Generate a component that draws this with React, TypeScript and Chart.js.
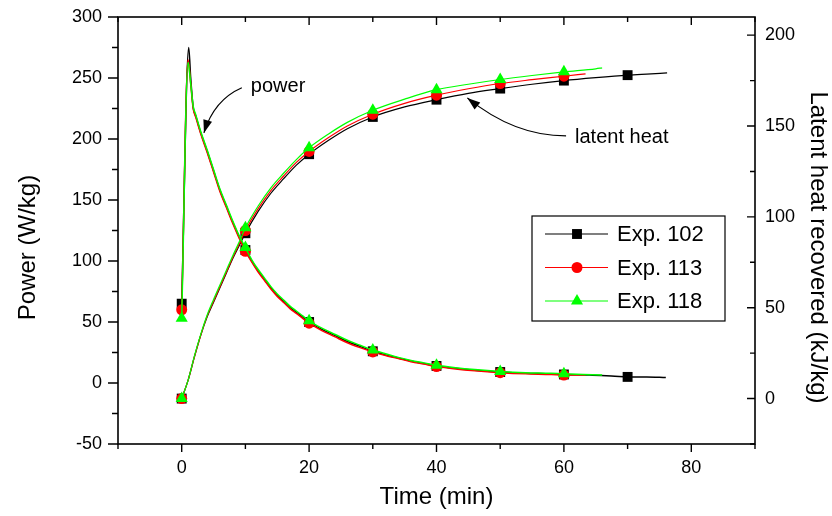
import React, { useEffect, useRef } from 'react';
import { Chart, registerables } from 'chart.js';

Chart.register(...registerables);

const FONT = '"Liberation Sans", Arial, Helvetica, sans-serif';

// ---- Power (W/kg) vs time (min) ----
const P102_T = [0, 1.1, 1.4, 1.8, 2.2, 3, 4, 5, 6, 7, 8, 9, 10, 11, 12, 13, 14, 15, 16, 17, 18, 19, 20, 22, 24, 26, 28, 30, 32, 34, 36, 38, 40, 43, 46, 50, 54, 58, 60, 64, 68, 70, 73, 76];
const P102_V = [65, 275, 251, 226, 219, 205, 190, 174, 158, 145, 132, 120, 109, 100, 92, 85, 78, 72, 67, 62, 58, 54, 50, 44, 39, 34, 30, 26, 23, 20.5, 18, 16, 14, 12, 10.5, 9, 8, 7.5, 7, 6.5, 5.5, 5, 5, 4.5];

const P113_T = [0, 1.0, 1.4, 1.8, 2.2, 3, 4, 5, 6, 7, 8, 9, 10, 11, 12, 13, 14, 15, 16, 17, 18, 19, 20, 22, 24, 26, 28, 30, 32, 34, 36, 38, 40, 43, 46, 50, 54, 58, 60, 63.4];
const P113_V = [60, 265, 246, 225, 218, 204, 189, 173, 157, 144, 131, 119, 108, 99, 91, 84, 77, 71, 66, 61, 57, 53, 49, 43, 38, 33, 29, 25.5, 22.5, 20, 17.5, 15.5, 13.5, 11.5, 10, 8.5, 7.5, 7, 6.5, 6.5];

const P118_T = [0, 1.0, 1.4, 1.8, 2.2, 3, 4, 5, 6, 7, 8, 9, 10, 11, 12, 13, 14, 15, 16, 17, 18, 19, 20, 22, 24, 26, 28, 30, 32, 34, 36, 38, 40, 43, 46, 50, 54, 58, 60, 63, 66];
const P118_V = [53, 263, 246, 227, 220, 206, 191, 175, 159, 146, 133, 121, 111, 101, 93, 86, 79, 73, 68, 63, 59, 55, 51, 45, 40, 35, 31, 27, 24, 21, 18.5, 16.5, 14.5, 12.5, 11, 9.5, 8.5, 8, 7.5, 7, 6.5];

// ---- Latent heat recovered (kJ/kg) vs time (min) ----
const L102_T = [0, 1, 2, 3, 4, 5, 6, 7, 8, 9, 10, 12, 14, 16, 18, 20, 23, 26, 30, 35, 40, 45, 50, 55, 60, 65, 70, 73, 76.2];
const L102_V = [0, 10, 23, 35, 45, 53, 61, 69, 77, 84, 91, 103, 113, 121, 128.5, 134.5, 142, 148.5, 155, 160.5, 164.5, 168, 170.6, 173, 175, 176.6, 178, 178.6, 179.2];

const L113_T = [0, 1, 2, 3, 4, 5, 6, 7, 8, 9, 10, 12, 14, 16, 18, 20, 23, 26, 30, 35, 40, 45, 50, 55, 60, 63.4];
const L113_V = [0, 10, 23, 35, 45.5, 53.5, 61.5, 69.5, 77.5, 85, 92.5, 104.5, 114.5, 122.5, 130, 136, 143.5, 150, 156.5, 162.5, 167, 170.5, 173.4, 175.5, 177.4, 178.7];

const L118_T = [0, 1, 2, 3, 4, 5, 6, 7, 8, 9, 10, 12, 14, 16, 18, 20, 23, 26, 30, 35, 40, 45, 50, 55, 60, 65, 66];
const L118_V = [0, 10, 23.5, 35.5, 46, 54.5, 62.5, 70.5, 78.5, 86, 94, 106, 116, 124, 131.5, 138, 145.5, 152, 158.7, 164.8, 170, 173, 175.6, 177.8, 179.8, 181.5, 182];

const MARKS_102 = [0, 10, 20, 30, 40, 50, 60, 70];
const MARKS_OTHER = [0, 10, 20, 30, 40, 50, 60];

const SERIES = [
  { name: 'Exp. 102', color: '#000000', style: 'rect', radius: 7, marks: MARKS_102 },
  { name: 'Exp. 113', color: '#ff0000', style: 'circle', radius: 5.5, marks: MARKS_OTHER },
  { name: 'Exp. 118', color: '#00ff00', style: 'triangle', radius: 7, marks: MARKS_OTHER },
];

const X_TITLE = 'Time (min)';
const Y_TITLE = 'Power (W/kg)';
const Y2_TITLE = 'Latent heat recovered (kJ/kg)';

const X_MIN = -10, X_MAX = 90;
const Y_MIN = -50, Y_MAX = 300;
const Y2_MIN = -25, Y2_MAX = 210;

const pts = (t: number[], v: number[]) => t.map((x, i) => ({ x, y: v[i] }));

function makeDataset(idx: number, t: number[], v: number[], axis: string, width: number) {
  const s = SERIES[idx];
  return {
    label: s.name,
    data: pts(t, v),
    yAxisID: axis,
    showLine: true,
    borderColor: s.color,
    backgroundColor: s.color,
    borderWidth: width,
    pointStyle: s.style,
    pointBorderWidth: 0,
    pointBackgroundColor: s.color,
    pointBorderColor: s.color,
    cubicInterpolationMode: 'monotone',
    pointRadius: (ctx: any) => (ctx.raw && s.marks.includes(ctx.raw.x) ? s.radius : 0),
    pointHoverRadius: 0,
  };
}

function drawMarker(ctx: CanvasRenderingContext2D, style: string, r: number, x: number, y: number) {
  ctx.beginPath();
  if (style === 'rect') {
    const h = r * Math.SQRT1_2;
    ctx.rect(x - h, y - h, 2 * h, 2 * h);
  } else if (style === 'circle') {
    ctx.arc(x, y, r, 0, Math.PI * 2);
  } else {
    for (let k = 0; k < 3; k++) {
      const a = (k * 2 * Math.PI) / 3;
      const px = x + Math.sin(a) * r;
      const py = y - Math.cos(a) * r;
      if (k === 0) ctx.moveTo(px, py); else ctx.lineTo(px, py);
    }
    ctx.closePath();
  }
  ctx.fill();
}

function drawArrow(ctx: CanvasRenderingContext2D, p0: number[], c: number[], p1: number[]) {
  ctx.beginPath();
  ctx.moveTo(p0[0], p0[1]);
  ctx.quadraticCurveTo(c[0], c[1], p1[0], p1[1]);
  ctx.stroke();
  const ang = Math.atan2(p1[1] - c[1], p1[0] - c[0]);
  const L = 13, W = 4.5;
  ctx.beginPath();
  ctx.moveTo(p1[0], p1[1]);
  ctx.lineTo(p1[0] - L * Math.cos(ang) + W * Math.sin(ang), p1[1] - L * Math.sin(ang) - W * Math.cos(ang));
  ctx.lineTo(p1[0] - L * Math.cos(ang) - W * Math.sin(ang), p1[1] - L * Math.sin(ang) + W * Math.cos(ang));
  ctx.closePath();
  ctx.fill();
}

const framePlugin = {
  id: 'frameTicks',
  afterDraw(chart: any) {
    const ctx: CanvasRenderingContext2D = chart.ctx;
    const { left, right, top, bottom } = chart.chartArea;
    const sx = chart.scales.x, sy = chart.scales.y, sy2 = chart.scales.y2;
    ctx.save();
    ctx.strokeStyle = '#000';
    ctx.fillStyle = '#000';
    ctx.lineWidth = 1.6;
    ctx.strokeRect(left, top, right - left, bottom - top);
    ctx.lineWidth = 1.4;
    ctx.beginPath();
    for (const tk of sx.ticks) {
      const major = tk.value % 20 === 0;
      const px = sx.getPixelForValue(tk.value);
      ctx.moveTo(px, bottom); ctx.lineTo(px, bottom + (major ? 8 : 5));
      ctx.moveTo(px, top); ctx.lineTo(px, top + (major ? 8 : 5));
    }
    for (const tk of sy.ticks) {
      const major = tk.value % 50 === 0;
      const py = sy.getPixelForValue(tk.value);
      ctx.moveTo(left, py); ctx.lineTo(left - (major ? 10 : 6), py);
    }
    for (const tk of sy2.ticks) {
      const major = tk.value % 50 === 0;
      const py = sy2.getPixelForValue(tk.value);
      ctx.moveTo(right, py); ctx.lineTo(right - (major ? 8 : 5), py);
    }
    ctx.stroke();

    // vertical axis titles (offset below plot centre as in the original)
    const midY = (top + bottom) / 2 + 17;
    ctx.font = `24px ${FONT}`;
    ctx.textAlign = 'center';
    ctx.textBaseline = 'middle';
    ctx.save();
    ctx.translate(28.5, midY);
    ctx.rotate(-Math.PI / 2);
    ctx.fillText(Y_TITLE, 0, 0);
    ctx.restore();
    ctx.save();
    ctx.translate(817.5, midY);
    ctx.rotate(Math.PI / 2);
    ctx.fillText(Y2_TITLE, 0, 0);
    ctx.restore();

    // annotations
    const P = (t: number, v: number) => [sx.getPixelForValue(t), sy.getPixelForValue(v)];
    ctx.lineWidth = 1.2;
    drawArrow(ctx, P(9.44, 242), P(5.06, 232), P(3.49, 205));
    drawArrow(ctx, P(60.34, 202.5), P(52.2, 202.5), P(44.84, 233.7));
    ctx.font = `20px ${FONT}`;
    ctx.textAlign = 'left';
    ctx.textBaseline = 'middle';
    const pt = P(10.85, 242.8);
    ctx.fillText('power', pt[0], pt[1]);
    const lt = P(61.75, 201.6);
    ctx.fillText('latent heat', lt[0], lt[1]);

    // legend
    const bx = left + 414, by = top + 199, bw = 193, bh = 105;
    ctx.fillStyle = '#fff';
    ctx.fillRect(bx, by, bw, bh);
    ctx.lineWidth = 1.2;
    ctx.strokeStyle = '#000';
    ctx.strokeRect(bx, by, bw, bh);
    ctx.font = `22px ${FONT}`;
    SERIES.forEach((s, i) => {
      const cy = by + 18 + i * 33.5;
      ctx.strokeStyle = s.color;
      ctx.lineWidth = 1.2;
      ctx.beginPath();
      ctx.moveTo(bx + 13, cy); ctx.lineTo(bx + 76, cy);
      ctx.stroke();
      ctx.fillStyle = s.color;
      drawMarker(ctx, s.style, s.radius, bx + 45, cy);
      ctx.fillStyle = '#000';
      ctx.fillText(s.name, bx + 85, cy + 1);
    });
    ctx.restore();
  },
};

export default function App() {
  const ref = useRef<HTMLCanvasElement | null>(null);
  useEffect(() => {
    if (!ref.current) return;
    const tickFont = { family: FONT, size: 18 };
    const titleFont = { family: FONT, size: 24 };
    const fitV = (w: number) => (s: any) => { s.width = w; s.paddingTop = 0; s.paddingBottom = 0; };
    const chart = new Chart(ref.current, {
      type: 'scatter',
      data: {
        datasets: [
          makeDataset(2, P118_T, P118_V, 'y', 1.5),
          makeDataset(2, L118_T, L118_V, 'y2', 1.2),
          makeDataset(1, P113_T, P113_V, 'y', 1.5),
          makeDataset(1, L113_T, L113_V, 'y2', 1.2),
          makeDataset(0, P102_T, P102_V, 'y', 1.5),
          makeDataset(0, L102_T, L102_V, 'y2', 1.2),
        ] as any,
      },
      options: {
        animation: false,
        responsive: true,
        maintainAspectRatio: false,
        layout: { padding: { top: 17, left: 0, right: 0, bottom: 0 } },
        plugins: { legend: { display: false }, tooltip: { enabled: false } },
        scales: {
          x: {
            type: 'linear', position: 'bottom', min: X_MIN, max: X_MAX,
            grid: { display: false, drawTicks: false },
            border: { display: false },
            ticks: {
              stepSize: 10, autoSkip: false, maxRotation: 0, color: '#000', font: tickFont, padding: 13,
              callback: (v: any) => (v % 20 === 0 ? String(v) : ''),
            },
            title: { display: true, text: X_TITLE, color: '#000', font: titleFont, padding: { top: 2, bottom: 4 } },
            afterFit: (s: any) => { s.height = 72; s.paddingLeft = 0; s.paddingRight = 0; },
          },
          y: {
            type: 'linear', position: 'left', min: Y_MIN, max: Y_MAX,
            grid: { display: false, drawTicks: false },
            border: { display: false },
            ticks: {
              stepSize: 25, autoSkip: false, color: '#000', font: tickFont, padding: 16,
              callback: (v: any) => (v % 50 === 0 ? String(v) : ''),
            },
            afterFit: fitV(118),
          },
          y2: {
            type: 'linear', position: 'right', min: Y2_MIN, max: Y2_MAX,
            grid: { display: false, drawTicks: false },
            border: { display: false },
            ticks: {
              stepSize: 25, autoSkip: false, includeBounds: false, color: '#000', font: tickFont, padding: 10,
              callback: (v: any) => (v % 50 === 0 ? String(v) : ''),
            },
            afterFit: fitV(77),
          },
        },
      } as any,
      plugins: [framePlugin],
    });
    return () => chart.destroy();
  }, []);
  return (
    <div style={{ position: 'absolute', left: 0, top: 0, width: 832, height: 516, background: '#fff' }}>
      <canvas ref={ref} />
    </div>
  );
}
